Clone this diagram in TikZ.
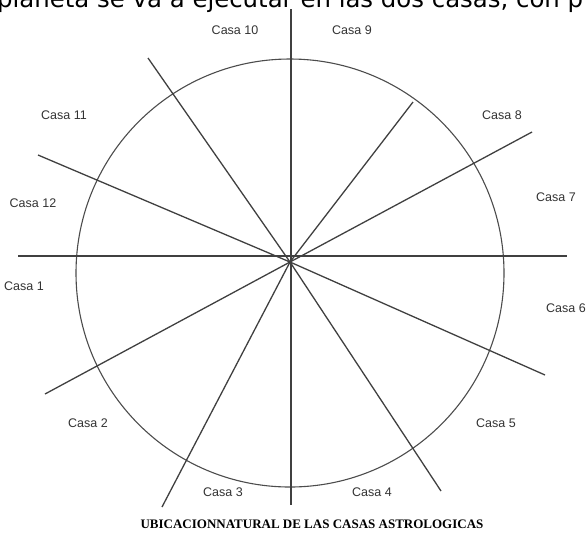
\documentclass[tikz,border=0pt]{standalone}
\usepackage{fontspec}
\setmainfont{Liberation Serif}
\newfontfamily\labfont{Liberation Sans}
\newfontfamily\topfont{DejaVu Sans}
\begin{document}
\begin{tikzpicture}[x=1pt,y=-1pt,
  ray/.style={draw=black!75,line width=1.3pt},
  ring/.style={draw=black!70,line width=1.1pt},
  lab/.style={font=\labfont\fontsize{12.5}{14}\selectfont,text=black!80,inner sep=0pt},
  captxt/.style={font=\bfseries\fontsize{13}{15}\selectfont,inner sep=0pt}]
\useasboundingbox (0,0) rectangle (588,542);
\begin{scope}
\clip (0,0) rectangle (588,542);
\node[anchor=base west,inner sep=0pt,font=\topfont\fontsize{24.4}{26}\selectfont] (top) at (-3,7) {planeta se va a ejecutar en las dos casas, con p};
\end{scope}
% coordinates
\coordinate (c) at (290,262);
\coordinate (cc) at (290,273);
\coordinate (t) at (291,9);
\coordinate (b) at (291,505);
\coordinate (l) at (18,256);
\coordinate (r) at (567,256);
\coordinate (a1) at (38,155);
\coordinate (a2) at (148,58);
\coordinate (a3) at (413,102);
\coordinate (a4) at (532,132);
\coordinate (a5) at (545,375);
\coordinate (a6) at (441,491);
\coordinate (a7) at (162,507);
\coordinate (a8) at (45,394);
\draw[ring] (cc) circle (214);
\draw[ray] (t) -- (b);
\draw[ray] (l) -- (r);
\foreach \p in {a1,a2,a3,a4,a5,a6,a7,a8} \draw[ray] (\p) -- (c);
% labels
\node[lab] (c10) at (235,30) {Casa 10};
\node[lab] (c9) at (352,30) {Casa 9};
\node[lab] (c11) at (64,115) {Casa 11};
\node[lab] (c8) at (502,115) {Casa 8};
\node[lab] (c12) at (33,203) {Casa 12};
\node[lab] (c7) at (556,197) {Casa 7};
\node[lab] (c1) at (24,286) {Casa 1};
\node[lab] (c6) at (566,308) {Casa 6};
\node[lab] (c2) at (88,423) {Casa 2};
\node[lab] (c5) at (496,423) {Casa 5};
\node[lab] (c3) at (223,492) {Casa 3};
\node[lab] (c4) at (372,492) {Casa 4};
\node[captxt] (title) at (312,524) {UBICACIONNATURAL DE LAS CASAS ASTROLOGICAS};
\end{tikzpicture}
\end{document}
